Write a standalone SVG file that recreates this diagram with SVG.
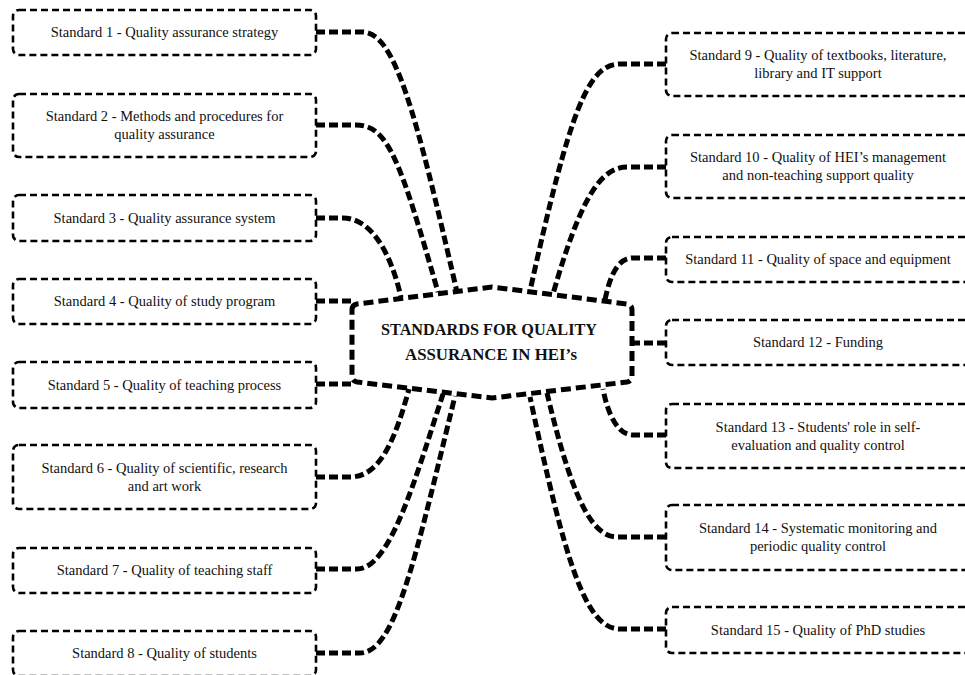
<svg xmlns="http://www.w3.org/2000/svg" width="965" height="675" viewBox="0 0 965 675">
<style>
.box{fill:#fff;stroke:#000;stroke-width:2.6;stroke-dasharray:7 4}
.lbl{font-family:"Liberation Serif","DejaVu Serif",serif;font-size:14.5px;fill:#111;text-anchor:middle}
.con{fill:none;stroke:#000;stroke-width:5;stroke-dasharray:9 4}
.hub{fill:#fff;stroke:#000;stroke-width:5;stroke-dasharray:10 5}
.title{font-family:"Liberation Serif","DejaVu Serif",serif;font-size:16px;font-weight:bold;fill:#111;text-anchor:middle}
</style>
<rect width="965" height="675" fill="#fff"/>
<g id="connectors">
<path class="con" d="M316,32 H362 C395,32 415,110 457,292"/>
<path class="con" d="M316,125 H356 C388,125 400,160 438,292"/>
<path class="con" d="M316,218 H343 C370,218 390,250 401,297"/>
<path class="con" d="M316,301 H354"/>
<path class="con" d="M316,384 H353"/>
<path class="con" d="M316,477 H350 C380,477 395,440 409,389"/>
<path class="con" d="M316,569 H357 C390,569 415,480 443,394"/>
<path class="con" d="M316,653 H360 C395,653 415,560 455,396"/>
<path class="con" d="M666,64 H620 C588,64 570,110 530,291"/>
<path class="con" d="M666,167 H627 C600,167 580,200 553,294"/>
<path class="con" d="M666,258 H633 C618,258 610,275 605,300"/>
<path class="con" d="M666,343 H632"/>
<path class="con" d="M666,435 H633 C618,435 608,415 603,389"/>
<path class="con" d="M666,537 H617 C590,537 570,490 547,393"/>
<path class="con" d="M666,629 H620 C585,629 565,560 530,397"/>
</g>
<g id="hub">
<path class="hub" d="M352,310 Q352,305 357,304 L492,287 L627,304 Q632,305 632,310 L632,376 Q632,381 627,382 L492,398 L357,382 Q352,381 352,376 Z"/>
<text class="title" x="489" y="335" textLength="216" lengthAdjust="spacingAndGlyphs">STANDARDS FOR QUALITY</text>
<text class="title" x="491" y="360" textLength="172" lengthAdjust="spacingAndGlyphs">ASSURANCE IN HEI’s</text>
</g>
<g id="s1"><rect class="box" x="13" y="10" width="303" height="45" rx="6"/><text class="lbl" x="164.5" y="37">Standard 1 - Quality assurance strategy</text></g>
<g id="s2"><rect class="box" x="13" y="94" width="303" height="63" rx="6"/><text class="lbl" x="164.5" y="120.5">Standard 2 - Methods and procedures for</text><text class="lbl" x="164.5" y="138.5">quality assurance</text></g>
<g id="s3"><rect class="box" x="13" y="195" width="303" height="46" rx="6"/><text class="lbl" x="164.5" y="222.5">Standard 3 - Quality assurance system</text></g>
<g id="s4"><rect class="box" x="13" y="279" width="303" height="45" rx="6"/><text class="lbl" x="164.5" y="306">Standard 4 - Quality of study program</text></g>
<g id="s5"><rect class="box" x="13" y="362" width="303" height="46" rx="6"/><text class="lbl" x="164.5" y="389.5">Standard 5 - Quality of teaching process</text></g>
<g id="s6"><rect class="box" x="13" y="445" width="303" height="64" rx="6"/><text class="lbl" x="164.5" y="472.5">Standard 6 - Quality of scientific, research</text><text class="lbl" x="164.5" y="490.5">and art work</text></g>
<g id="s7"><rect class="box" x="13" y="548" width="303" height="45" rx="6"/><text class="lbl" x="164.5" y="575">Standard 7 - Quality of teaching staff</text></g>
<g id="s8"><rect class="box" x="13" y="631" width="303" height="45" rx="6"/><text class="lbl" x="164.5" y="657.5">Standard 8 - Quality of students</text></g>
<g id="s9"><rect class="box" x="666" y="33" width="306" height="63" rx="6"/><text class="lbl" x="818" y="60">Standard 9 - Quality of textbooks, literature,</text><text class="lbl" x="818" y="78">library and IT support</text></g>
<g id="s10"><rect class="box" x="666" y="135" width="306" height="63" rx="6"/><text class="lbl" x="818" y="162">Standard 10 - Quality of HEI’s management</text><text class="lbl" x="818" y="180">and non-teaching support quality</text></g>
<g id="s11"><rect class="box" x="666" y="237" width="306" height="45" rx="6"/><text class="lbl" x="818" y="264">Standard 11 - Quality of space and equipment</text></g>
<g id="s12"><rect class="box" x="666" y="320" width="306" height="45" rx="6"/><text class="lbl" x="818" y="347">Standard 12 - Funding</text></g>
<g id="s13"><rect class="box" x="666" y="404" width="306" height="64" rx="6"/><text class="lbl" x="818" y="431.5">Standard 13 - Students' role in self-</text><text class="lbl" x="818" y="449.5">evaluation and quality control</text></g>
<g id="s14"><rect class="box" x="666" y="505" width="306" height="65" rx="6"/><text class="lbl" x="818" y="533">Standard 14 - Systematic monitoring and</text><text class="lbl" x="818" y="551">periodic quality control</text></g>
<g id="s15"><rect class="box" x="666" y="607" width="306" height="46" rx="6"/><text class="lbl" x="818" y="634.5">Standard 15 - Quality of PhD studies</text></g>
</svg>
